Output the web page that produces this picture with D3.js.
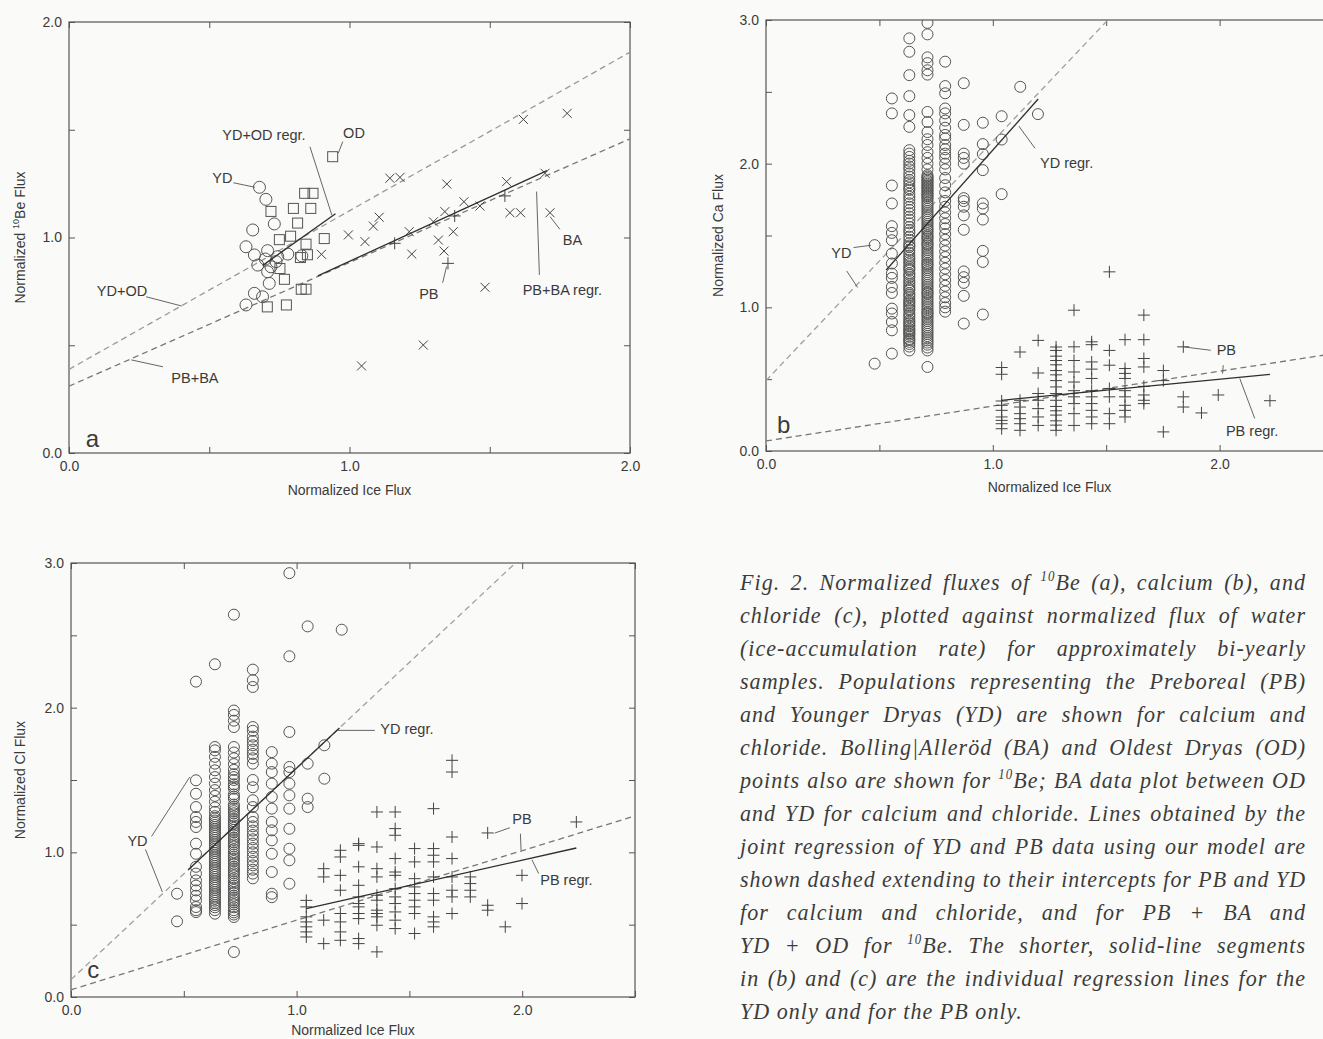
<!DOCTYPE html>
<html>
<head>
<meta charset="utf-8">
<script src="https://cdn.jsdelivr.net/npm/d3@7"></script>
<style>
  body { margin: 0; background: #fafaf8; }
  svg { display: block; }
  text { font-family: "Liberation Sans", Arial, sans-serif; fill: #3a3a3a; }
  .caption text { font-family: "Liberation Serif", "DejaVu Serif", serif; font-style: italic; fill: #3c3c3c; }
</style>
</head>
<body>
<script>
// ---------- panel a : 10Be ----------
const beYD = [[0.679,1.233],[0.702,1.177],[0.732,1.063],[0.655,1.035],[0.708,0.939],[0.631,0.957],[0.661,0.919],
  [0.744,0.911],[0.78,0.923],[0.673,0.872],[0.708,0.841],[0.72,0.864],[0.738,0.888],[0.714,0.787],[0.661,0.741],
  [0.69,0.725],[0.631,0.687],[0.83,0.915],[0.7,0.9]];
const beOD = [[0.94,1.375],[0.84,1.205],[0.87,1.205],[0.72,1.121],[0.80,1.135],[0.862,1.135],[0.815,1.067],
  [0.75,0.99],[0.79,1.006],[0.845,0.969],[0.91,0.995],[0.825,0.907],[0.85,0.92],[0.752,0.856],[0.768,0.806],
  [0.828,0.76],[0.845,0.76],[0.707,0.678],[0.775,0.687]];
const beBA = [[1.62,1.548],[1.776,1.576],[1.144,1.275],[1.18,1.279],[1.347,1.248],[1.56,1.259],[1.697,1.298],
  [1.408,1.166],[1.465,1.146],[1.572,1.115],[1.61,1.115],[1.715,1.115],[1.34,1.12],[1.299,1.073],[1.106,1.094],
  [1.085,1.053],[0.996,1.012],[1.055,0.981],[1.213,1.027],[1.37,1.027],[1.317,0.988],[1.222,0.923],[1.337,0.937],
  [1.483,0.769],[1.263,0.501],[1.043,0.404],[0.9,0.922]];
const bePB = [[1.161,0.973],[1.554,1.193],[1.375,1.1],[1.351,0.88]];
const beDashed = [[[0,0.388],[2,1.86]], [[0,0.31],[2,1.458]]];
const beSolid = [[[0.69,0.87],[0.95,1.11]], [[0.887,0.822],[1.704,1.31]]];

// ---------- panel b : calcium (columns of [ice flux, [Ca flux ...]]) ----------
const caYD = [
  [0.479, [1.433,0.608]],
  [0.555, [2.454,2.35,1.848,1.723,1.565,1.518,1.467,1.374,1.305,1.235,1.205,1.142,1.1,0.991,0.957,0.898,0.84,0.678]],
  [0.632, [2.872,2.779,2.616,2.47,2.338,2.256,2.094,2.047,2.001,1.96,1.932,1.886,1.85,1.817,1.77,1.724,1.678,1.655,
           1.631,1.585,1.56,1.538,1.492,1.47,1.446,1.42,1.399,1.36,1.33,1.3,1.283,1.26,1.237,1.21,1.19,1.16,1.144,
           1.12,1.098,1.07,1.051,1.03,1.005,0.98,0.958,0.93,0.912,0.89,0.866,0.84,0.819,0.795,0.773,0.727,0.70,
           2.07,2.02,1.98,1.91,1.87,1.83,1.79,1.75,1.70,1.61,1.52,1.43,1.38,1.345,1.315,1.27,1.225,1.175,1.13,
           1.085,1.04,1.015,0.99,0.945,0.9,0.875,0.85,0.83,0.81,0.78,0.76,0.745]],
  [0.712, [2.98,2.9,2.74,2.70,2.65,2.62,2.36,2.29,2.22,2.17,2.13,2.08,2.04,2.0,1.96,1.92,1.9,1.88,1.86,1.84,1.82,
           1.8,1.78,1.76,1.73,1.7,1.67,1.64,1.61,1.58,1.55,1.53,1.5,1.48,1.45,1.43,1.4,1.37,1.34,1.31,1.29,1.26,
           1.23,1.2,1.17,1.14,1.11,1.09,1.06,1.03,1.0,0.97,0.95,0.92,0.89,0.86,0.83,0.8,0.77,0.74,0.72,0.7,0.585,
           1.91,1.89,1.87,1.85,1.83,1.81,1.79,1.77,1.745,1.715,1.685,1.655,1.625,1.595,1.565,1.54,1.515,1.49,
           1.465,1.44,1.415,1.385,1.355,1.325,1.30,1.275,1.245,1.215,1.185,1.155,1.125,1.10,1.075,1.045,1.015,
           0.985,0.96,0.935,0.905,0.875,0.845,0.815,0.785,0.755]],
  [0.79,  [2.71,2.54,2.49,2.384,2.35,2.30,2.25,2.2,2.175,2.13,2.1,2.07,2.04,2.0,1.96,1.9,1.85,1.8,1.74,1.7,1.66,
           1.62,1.58,1.55,1.51,1.47,1.43,1.39,1.35,1.31,1.27,1.23,1.19,1.15,1.11,1.07,1.03,1.0,0.97]],
  [0.872, [2.56,2.27,2.07,2.04,2.0,1.76,1.74,1.70,1.64,1.54,1.25,1.21,1.17,1.08,0.887]],
  [0.956, [2.285,2.136,2.067,1.955,1.723,1.688,1.611,1.393,1.316,0.95]],
  [1.039, [2.33,2.168,1.788]],
  [1.121, [2.535]],
  [1.199, [2.345]]
];
const caPB = [
  [1.039, [0.581,0.534,0.348,0.318,0.283,0.237,0.213,0.19,0.155]],
  [1.12,  [0.689,0.353,0.306,0.26,0.225,0.19,0.144]],
  [1.2,   [0.77,0.543,0.4,0.353,0.295,0.237,0.178]],
  [1.279, [0.724,0.70,0.66,0.63,0.6,0.56,0.53,0.49,0.446,0.4,0.353,0.31,0.28,0.25,0.21,0.18,0.144]],
  [1.358, [0.98,0.725,0.63,0.55,0.48,0.42,0.377,0.33,0.26,0.178]],
  [1.436, [0.76,0.74,0.62,0.57,0.505,0.42,0.377,0.33,0.283,0.237,0.19]],
  [1.514, [1.247,0.7,0.597,0.435,0.377,0.26,0.19]],
  [1.583, [0.775,0.574,0.54,0.505,0.42,0.377,0.318,0.283,0.237]],
  [1.666, [0.946,0.775,0.644,0.585,0.45,0.39,0.353,0.33]],
  [1.752, [0.56,0.49,0.133]],
  [1.84,  [0.725,0.377,0.306]],
  [1.92,  [0.265]],
  [1.994, [0.39]],
  [2.222, [0.35]]
];
const caDashed = [[[0,0.49],[1.507,3.0]], [[0,0.07],[2.5,0.677]]];
const caSolid = [[[0.53,1.26],[1.2,2.45]], [[1.039,0.353],[2.222,0.534]]];

// ---------- panel c : chloride ----------
const clYD = [
  [0.47,  [0.714,0.523]],
  [0.554, [2.18,1.498,1.405,1.313,1.244,1.21,1.175,1.06,0.99,0.9,0.853,0.806,0.77,0.737,0.7,0.668,0.622,0.6,0.587]],
  [0.638, [2.3,1.728,1.705,1.66,1.613,1.567,1.52,1.475,1.43,1.39,1.35,1.31,1.28,1.25,1.22,1.19,1.16,1.13,1.1,1.07,
           1.04,1.01,0.98,0.95,0.92,0.89,0.86,0.83,0.8,0.77,0.74,0.71,0.68,0.65,0.62,0.6,0.576,
           1.235,1.205,1.175,1.145,1.115,1.085,1.055,1.025,0.995,0.965,0.935,0.905,0.875,0.845,0.815,0.785,
           0.755,0.725,0.695,0.665,0.635]],
  [0.722, [2.643,1.98,1.95,1.91,1.866,1.728,1.69,1.65,1.61,1.57,1.54,1.5,1.47,1.44,1.4,1.37,1.33,1.3,1.27,1.23,1.2,
           1.17,1.14,1.1,1.07,1.04,1.0,0.97,0.94,0.9,0.87,0.84,0.8,0.77,0.74,0.7,0.67,0.64,0.6,0.57,0.553,0.311,
           1.52,1.455,1.385,1.315,1.285,1.25,1.215,1.185,1.155,1.12,1.085,1.055,1.02,0.985,0.955,0.92,0.885,
           0.855,0.82,0.785,0.755,0.72,0.685,0.655,0.62,0.585]],
  [0.806, [2.263,2.19,2.143,1.866,1.84,1.8,1.77,1.74,1.71,1.68,1.65,1.613,1.5,1.45,1.36,1.313,1.244,1.21,1.18,1.15,
           1.12,1.09,1.06,1.03,1.0,0.97,0.94,0.91,0.88,0.853,0.82]],
  [0.89,  [1.693,1.613,1.555,1.475,1.383,1.302,1.21,1.152,1.083,0.99,0.864,0.714,0.69]],
  [0.968, [2.93,2.355,1.832,1.59,1.555,1.475,1.394,1.302,1.163,1.025,0.945,0.783]],
  [1.049, [2.562,1.613,1.371,1.313]],
  [1.123, [1.74,1.509]],
  [1.2,   [2.539]]
];
const clPB = [
  [1.043, [0.668,0.623,0.554,0.519,0.485,0.45,0.415]],
  [1.12,  [0.887,0.83,0.531,0.369]],
  [1.194, [1.014,0.968,0.841,0.738,0.577,0.519,0.45,0.392]],
  [1.275, [1.06,1.048,0.9,0.772,0.692,0.646,0.623,0.577,0.542,0.404,0.369]],
  [1.356, [1.279,1.037,0.887,0.83,0.703,0.669,0.6,0.577,0.554,0.496,0.312]],
  [1.437, [1.279,1.164,1.118,0.957,0.864,0.841,0.749,0.692,0.646,0.588,0.531,0.473]],
  [1.523, [1.026,0.934,0.818,0.761,0.715,0.669,0.623,0.577,0.439]],
  [1.607, [1.302,1.026,0.98,0.934,0.83,0.715,0.669,0.554,0.519,0.485]],
  [1.689, [1.636,1.555,1.106,0.957,0.83,0.738,0.692,0.577]],
  [1.77,  [0.83,0.784,0.738,0.692]],
  [1.847, [1.134,0.634,0.6]],
  [1.925, [0.485]],
  [1.999, [0.841,0.646]],
  [2.24,  [1.21]]
];
const clDashed = [[[0,0.12],[1.97,3.0]], [[0,0.05],[2.5,1.252]]];
const clSolid = [[[0.52,0.88],[1.19,1.86]], [[1.043,0.611],[2.24,1.03]]];

// ---------- labels (placed in data units) ----------
const annA = [
  {t: "YD+OD regr.", x: 0.695, y: 1.452, lead: [[0.859,1.421],[0.937,1.104]]},
  {t: "OD", x: 1.016, y: 1.462, lead: [[0.976,1.445],[0.96,1.391]]},
  {t: "YD", x: 0.547, y: 1.253, lead: [[0.586,1.254],[0.663,1.233]]},
  {t: "YD+OD", x: 0.189, y: 0.729, lead: [[0.275,0.725],[0.402,0.682]]},
  {t: "PB+BA", x: 0.449, y: 0.325, lead: [[0.222,0.432],[0.335,0.4]]},
  {t: "PB", x: 1.283, y: 0.715, lead: [[1.332,0.79],[1.346,0.865]]},
  {t: "PB+BA regr.", x: 1.759, y: 0.733, lead: [[1.667,1.213],[1.677,0.826]]},
  {t: "BA", x: 1.795, y: 0.965, lead: [[1.715,1.097],[1.75,1.038]]}
];
const annB = [
  {t: "YD regr.", x: 1.208, y: 1.967, a: "start", lead: [[1.115,2.261],[1.186,2.107]]},
  {t: "YD", x: 0.288, y: 1.342, a: "start", lead: [[0.386,1.416],[0.463,1.432]]},
  {t: "", x: 0, y: 0, lead: [[0.356,1.253],[0.404,1.138]]},
  {t: "PB", x: 1.987, y: 0.666, a: "start", lead: [[1.845,0.724],[1.961,0.701]]},
  {t: "", x: 0, y: 0, lead: [[2.016,0.597],[2.013,0.539]]},
  {t: "PB regr.", x: 2.028, y: 0.102, a: "start", lead: [[2.089,0.504],[2.155,0.226]]}
];
const annC = [
  {t: "YD regr.", x: 1.371, y: 1.815, a: "start", lead: [[1.179,1.843],[1.347,1.843]]},
  {t: "YD", x: 0.25, y: 1.042, a: "start", lead: [[0.357,1.11],[0.526,1.52]]},
  {t: "", x: 0, y: 0, lead: [[0.33,1.02],[0.405,0.726]]},
  {t: "PB", x: 1.956, y: 1.194, a: "start", lead: [[1.878,1.133],[1.945,1.17]]},
  {t: "", x: 0, y: 0, lead: [[1.992,1.129],[1.995,1.014]]},
  {t: "PB regr.", x: 2.08, y: 0.773, a: "start", lead: [[2.043,0.949],[2.073,0.853]]}
];

const captionLines = [
  "Fig. 2. Normalized fluxes of ^10^Be (a), calcium (b), and",
  "chloride (c), plotted against normalized flux of water",
  "(ice-accumulation rate) for approximately bi-yearly",
  "samples. Populations representing the Preboreal (PB)",
  "and Younger Dryas (YD) are shown for calcium and",
  "chloride. Bolling|Alleröd (BA) and Oldest Dryas (OD)",
  "points also are shown for ^10^Be; BA data plot between OD",
  "and YD for calcium and chloride. Lines obtained by the",
  "joint regression of YD and PB data using our model are",
  "shown dashed extending to their intercepts for PB and YD",
  "for calcium and chloride, and for PB + BA and",
  "YD + OD for ^10^Be. The shorter, solid-line segments",
  "in (b) and (c) are the individual regression lines for the",
  "YD only and for the PB only."
];

// ---------- drawing ----------
const svg = d3.select("body").append("svg").attr("width", 1323).attr("height", 1039);
svg.append("rect").attr("width", 1323).attr("height", 1039).attr("fill", "#fafaf8");

const flat = cols => cols.flatMap(([x, ys]) => ys.map(y => [x, y]));

function drawPanel(o) {
  const x = d3.scaleLinear().domain([0, o.xMax]).range([o.left, o.right]);
  const y = d3.scaleLinear().domain([0, o.yMax]).range([o.bottom, o.top]);
  const g = svg.append("g");
  const xt = d3.range(0, o.xMax + 0.01, 0.5);
  const yt = d3.range(0, o.yMax + 0.01, 0.5);
  const lab = d => Number.isInteger(d) ? d.toFixed(1) : "";

  const styleAxis = sel => {
    sel.select(".domain").remove();
    sel.attr("color", "#555").attr("font-size", 14).attr("font-family", "Liberation Sans, Arial, sans-serif");
    sel.selectAll("text").attr("fill", "#3a3a3a");
  };
  g.append("g").attr("transform", `translate(0,${o.bottom})`)
    .call(d3.axisBottom(x).tickValues(xt).tickSizeInner(-6).tickSizeOuter(0).tickPadding(8).tickFormat(lab))
    .call(styleAxis);
  g.append("g").attr("transform", `translate(0,${o.top})`)
    .call(d3.axisTop(x).tickValues(xt).tickSizeInner(-6).tickSizeOuter(0).tickFormat(""))
    .call(styleAxis);
  g.append("g").attr("transform", `translate(${o.left},0)`)
    .call(d3.axisLeft(y).tickValues(yt).tickSizeInner(-6).tickSizeOuter(0).tickPadding(7).tickFormat(lab))
    .call(styleAxis);
  g.append("g").attr("transform", `translate(${o.right},0)`)
    .call(d3.axisRight(y).tickValues(yt).tickSizeInner(-6).tickSizeOuter(0).tickFormat(""))
    .call(styleAxis);

  g.append("rect").attr("x", o.left).attr("y", o.top)
    .attr("width", o.right - o.left).attr("height", o.bottom - o.top)
    .attr("fill", "none").attr("stroke", "#555").attr("stroke-width", 1.2);

  // axis titles
  g.append("text").attr("x", (o.left + o.right) / 2).attr("y", o.bottom + o.xTitleGap)
    .attr("text-anchor", "middle").attr("font-size", 14).text("Normalized Ice Flux");
  const yt2 = g.append("text")
    .attr("transform", `translate(${o.left - o.yTitleGap},${(o.top + o.bottom) / 2}) rotate(-90)`)
    .attr("text-anchor", "middle").attr("font-size", 14);
  o.yTitle.forEach((s, i) => {
    const sp = yt2.append("tspan").text(s);
    if (i % 2 === 1) sp.attr("font-size", 9).attr("dy", -6);
    else if (i > 0) sp.attr("dy", 6);
  });

  // clipped plot area
  const clipId = "clip-" + o.letter;
  svg.append("clipPath").attr("id", clipId).append("rect")
    .attr("x", o.left).attr("y", o.top).attr("width", o.right - o.left).attr("height", o.bottom - o.top);
  const plot = g.append("g").attr("clip-path", `url(#${clipId})`);

  o.dashed.forEach((d, i) => {
    plot.append("line")
      .attr("x1", x(d[0][0])).attr("y1", y(d[0][1])).attr("x2", x(d[1][0])).attr("y2", y(d[1][1]))
      .attr("stroke", o.dashColors[i]).attr("stroke-width", 1.3).attr("stroke-dasharray", "6,4");
  });

  o.series.forEach(s => {
    const sz = s.size;
    if (s.type === "circle") {
      plot.selectAll(null).data(s.pts).join("circle")
        .attr("cx", d => x(d[0])).attr("cy", d => y(d[1])).attr("r", sz)
        .attr("fill", "none").attr("stroke", "#555").attr("stroke-width", 1);
    } else if (s.type === "square") {
      plot.selectAll(null).data(s.pts).join("rect")
        .attr("x", d => x(d[0]) - sz).attr("y", d => y(d[1]) - sz)
        .attr("width", 2 * sz).attr("height", 2 * sz)
        .attr("fill", "none").attr("stroke", "#555").attr("stroke-width", 1);
    } else {
      const path = s.type === "cross"
        ? `M${-sz},${-sz}L${sz},${sz}M${-sz},${sz}L${sz},${-sz}`
        : `M${-sz},0H${sz}M0,${-sz}V${sz}`;
      plot.selectAll(null).data(s.pts).join("path")
        .attr("transform", d => `translate(${x(d[0])},${y(d[1])})`)
        .attr("d", path).attr("fill", "none").attr("stroke", "#444").attr("stroke-width", 1);
    }
  });

  o.solid.forEach(d => {
    plot.append("line")
      .attr("x1", x(d[0][0])).attr("y1", y(d[0][1])).attr("x2", x(d[1][0])).attr("y2", y(d[1][1]))
      .attr("stroke", "#2e2e2e").attr("stroke-width", 1.3);
  });

  // annotations
  o.ann.forEach(a => {
    g.append("line")
      .attr("x1", x(a.lead[0][0])).attr("y1", y(a.lead[0][1]))
      .attr("x2", x(a.lead[1][0])).attr("y2", y(a.lead[1][1]))
      .attr("stroke", "#555").attr("stroke-width", 0.9);
    if (a.t) {
      g.append("text").attr("x", x(a.x)).attr("y", y(a.y))
        .attr("text-anchor", a.a || "middle").attr("font-size", 14.5).text(a.t);
    }
  });

  g.append("text").attr("x", x(o.letterPos[0])).attr("y", y(o.letterPos[1]))
    .attr("font-size", 24).attr("fill", "#333").text(o.letter);
}

drawPanel({
  letter: "a", letterPos: [0.06, 0.03], left: 69, right: 630, top: 22, bottom: 453, xMax: 2, yMax: 2,
  xTitleGap: 42, yTitleGap: 44, yTitle: ["Normalized ", "10", "Be Flux"],
  dashed: beDashed, dashColors: ["#999", "#777"], solid: beSolid,
  series: [
    {type: "circle", pts: beYD, size: 6},
    {type: "square", pts: beOD, size: 5},
    {type: "cross", pts: beBA, size: 4.5},
    {type: "plus", pts: bePB, size: 6}
  ],
  ann: annA
});

drawPanel({
  letter: "b", letterPos: [0.049, 0.123], left: 766, right: 1333, top: 20, bottom: 451, xMax: 2.5, yMax: 3,
  xTitleGap: 41, yTitleGap: 43, yTitle: ["Normalized Ca Flux"],
  dashed: caDashed, dashColors: ["#a0a0a0", "#777"], solid: caSolid,
  series: [
    {type: "circle", pts: flat(caYD), size: 5.5},
    {type: "plus", pts: flat(caPB), size: 6}
  ],
  ann: annB
});

drawPanel({
  letter: "c", letterPos: [0.072, 0.129], left: 71, right: 635, top: 563, bottom: 997, xMax: 2.5, yMax: 3,
  xTitleGap: 38, yTitleGap: 46, yTitle: ["Normalized Cl Flux"],
  dashed: clDashed, dashColors: ["#a0a0a0", "#777"], solid: clSolid,
  series: [
    {type: "circle", pts: flat(clYD), size: 5.5},
    {type: "plus", pts: flat(clPB), size: 6}
  ],
  ann: annC
});

// caption: tall, slightly condensed italic, justified
const capWidth = 566, squeeze = 0.92;
const cap = svg.append("g").attr("class", "caption");
captionLines.forEach((line, i) => {
  const t = cap.append("text")
    .attr("transform", `translate(740,${590 + i * 33}) scale(${squeeze},1)`)
    .attr("font-size", 24).attr("letter-spacing", 1.1);
  line.split("^").forEach((part, j) => {
    const sp = t.append("tspan").text(part);
    if (j % 2 === 1) sp.attr("font-size", 14).attr("dy", -9);
    else if (j > 0) sp.attr("dy", 9);
  });
  if (i < captionLines.length - 1) {
    const target = capWidth / squeeze;
    const w = t.node().getComputedTextLength();
    const gaps = (line.match(/ /g) || []).length;
    if (w < target && gaps > 0) t.attr("word-spacing", (target - w) / gaps);
    else t.attr("textLength", target).attr("lengthAdjust", "spacingAndGlyphs");
  }
});
</script>
</body>
</html>
